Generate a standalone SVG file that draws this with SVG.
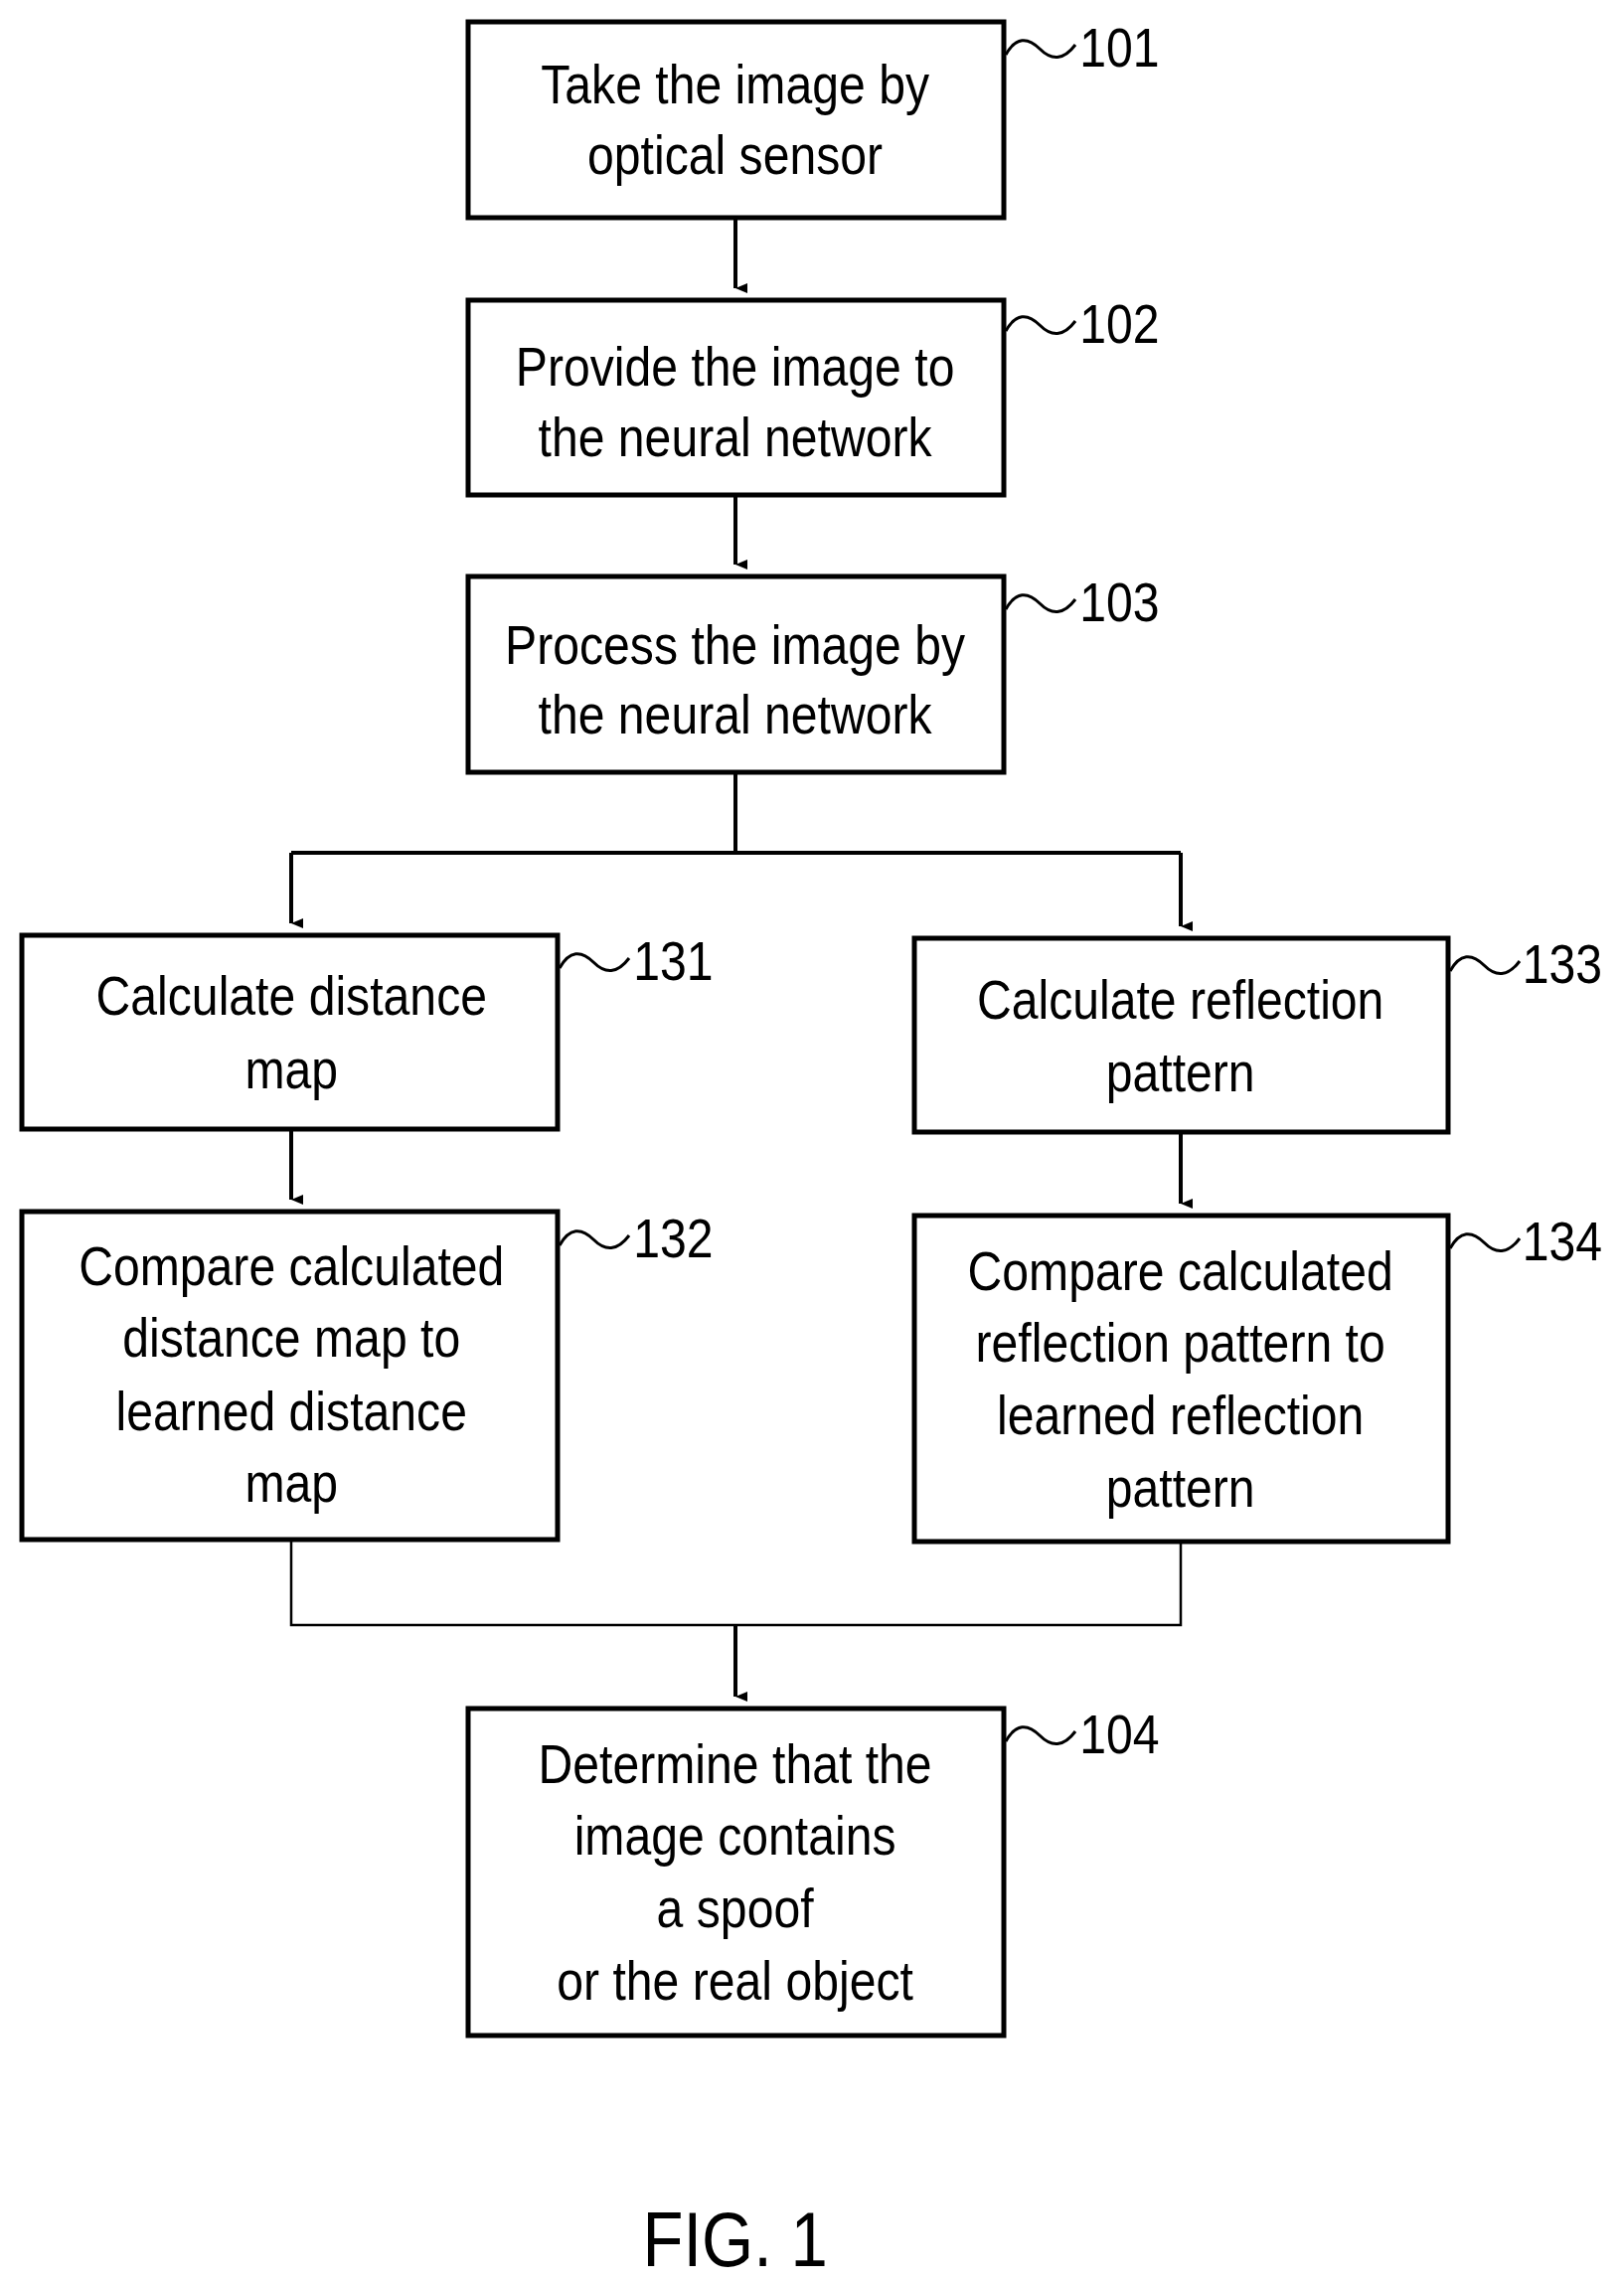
<svg xmlns="http://www.w3.org/2000/svg" width="1634" height="2297" viewBox="0 0 1634 2297">
<defs>
<marker id="ah" markerWidth="10" markerHeight="12" refX="5" refY="12" orient="auto" markerUnits="userSpaceOnUse" viewBox="0 0 10 12"><path d="M0,0 L10,0 L5,12 z" fill="#000"/></marker>
<style>
rect{fill:#fff;stroke:#000;stroke-width:5}
text{font-family:"Liberation Sans",Arial,sans-serif;font-size:56px;text-anchor:middle;fill:#000}
.lbl{text-anchor:start}
.t{fill:none;stroke:#000;stroke-width:3}
.c{fill:none;stroke:#000;stroke-width:4}
</style>
</defs>
<rect width="1634" height="2297" style="fill:#fff;stroke:none"/>
<g id="connectors">
<path class="c" d="M740 219 V290" marker-end="url(#ah)"/>
<path class="c" d="M740 498 V568" marker-end="url(#ah)"/>
<path class="c" d="M740 777 V858 M293 858 H1188"/>
<path class="c" d="M293 858 V929" marker-end="url(#ah)"/>
<path class="c" d="M1188 858 V932" marker-end="url(#ah)"/>
<path class="c" d="M293 1136 V1207" marker-end="url(#ah)"/>
<path class="c" d="M1188 1139 V1211" marker-end="url(#ah)"/>
<path style="fill:none;stroke:#000;stroke-width:2.5" d="M293 1549 V1635 H1188 V1551"/>
<path class="c" d="M740 1635 V1707" marker-end="url(#ah)"/>
</g>
<g id="n101"><rect x="471" y="22" width="539" height="197"/>
<g transform="scale(0.86,1)"><text x="860" y="104">Take the image by</text><text x="860" y="175">optical sensor</text></g>
<path class="t" d="M1012 55 c10 -18 22 -18 34 -6 s24 12 36 -4"/><g transform="scale(0.86,1)"><text class="lbl" x="1263" y="67">101</text></g></g>
<g id="n102"><rect x="471" y="302" width="539" height="196"/>
<g transform="scale(0.86,1)"><text x="860" y="388">Provide the image to</text><text x="860" y="459">the neural network</text></g>
<path class="t" d="M1012 333 c10 -18 22 -18 34 -6 s24 12 36 -4"/><g transform="scale(0.86,1)"><text class="lbl" x="1263" y="345">102</text></g></g>
<g id="n103"><rect x="471" y="580" width="539" height="197"/>
<g transform="scale(0.86,1)"><text x="860" y="668">Process the image by</text><text x="860" y="738">the neural network</text></g>
<path class="t" d="M1012 613 c10 -18 22 -18 34 -6 s24 12 36 -4"/><g transform="scale(0.86,1)"><text class="lbl" x="1263" y="625">103</text></g></g>
<g id="n131"><rect x="22" y="941" width="539" height="195"/>
<g transform="scale(0.86,1)"><text x="341" y="1021">Calculate distance</text><text x="341" y="1095">map</text></g>
<path class="t" d="M563 974 c10 -18 22 -18 34 -6 s24 12 36 -4"/><g transform="scale(0.86,1)"><text class="lbl" x="741" y="986">131</text></g></g>
<g id="n132"><rect x="22" y="1219" width="539" height="330"/>
<g transform="scale(0.86,1)"><text x="341" y="1293">Compare calculated</text><text x="341" y="1365">distance map to</text><text x="341" y="1439">learned distance</text><text x="341" y="1511">map</text></g>
<path class="t" d="M563 1253 c10 -18 22 -18 34 -6 s24 12 36 -4"/><g transform="scale(0.86,1)"><text class="lbl" x="741" y="1265">132</text></g></g>
<g id="n133"><rect x="920" y="944" width="537" height="195"/>
<g transform="scale(0.86,1)"><text x="1381" y="1025">Calculate reflection</text><text x="1381" y="1098">pattern</text></g>
<path class="t" d="M1459 977 c10 -18 22 -18 34 -6 s24 12 36 -4"/><g transform="scale(0.86,1)"><text class="lbl" x="1781" y="989">133</text></g></g>
<g id="n134"><rect x="920" y="1223" width="537" height="328"/>
<g transform="scale(0.86,1)"><text x="1381" y="1298">Compare calculated</text><text x="1381" y="1370">reflection pattern to</text><text x="1381" y="1443">learned reflection</text><text x="1381" y="1516">pattern</text></g>
<path class="t" d="M1459 1256 c10 -18 22 -18 34 -6 s24 12 36 -4"/><g transform="scale(0.86,1)"><text class="lbl" x="1781" y="1268">134</text></g></g>
<g id="n104"><rect x="471" y="1719" width="539" height="329"/>
<g transform="scale(0.86,1)"><text x="860" y="1794">Determine that the</text><text x="860" y="1866">image contains</text><text x="860" y="1939">a spoof</text><text x="860" y="2012">or the real object</text></g>
<path class="t" d="M1012 1752 c10 -18 22 -18 34 -6 s24 12 36 -4"/><g transform="scale(0.86,1)"><text class="lbl" x="1263" y="1764">104</text></g></g>
<g transform="scale(0.86,1)"><text x="860" y="2280" style="font-size:78px">FIG. 1</text></g>
</svg>
